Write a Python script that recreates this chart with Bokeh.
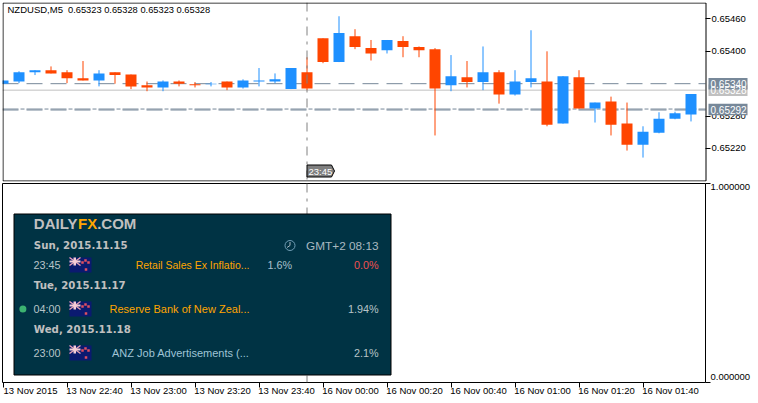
from bokeh.plotting import figure
from bokeh.layouts import column
from bokeh.models import (Span, Label, LinearAxis, FixedTicker, Range1d)
from bokeh.core.properties import value
from bokeh.embed import file_html
from bokeh.resources import INLINE

# ---- data ----
opens  = [0.65340,0.65344,0.65361,0.65365,0.65361,0.65350,0.65346,0.65361,0.65357,0.65337,0.65333,0.65344,0.65339,0.65339,0.65344,0.65333,0.65344,0.65344,0.65330,0.65361,0.65424,0.65380,0.65428,0.65406,0.65402,0.65419,0.65408,0.65404,0.65337,0.65352,0.65343,0.65361,0.65320,0.65343,0.65344,0.65266,0.65352,0.65294,0.65307,0.65266,0.65227,0.65249,0.65275,0.65283]
highs  = [0.65346,0.65363,0.65365,0.65372,0.65365,0.65382,0.65365,0.65361,0.65357,0.65344,0.65346,0.65346,0.65343,0.65343,0.65344,0.65348,0.65369,0.65359,0.65369,0.65389,0.65424,0.65465,0.65441,0.65421,0.65421,0.65428,0.65409,0.65406,0.65393,0.65382,0.65409,0.65365,0.65365,0.65439,0.65400,0.65354,0.65365,0.65305,0.65316,0.65305,0.65261,0.65287,0.65288,0.65288]
lows   = [0.65340,0.65341,0.65356,0.65359,0.65341,0.65346,0.65335,0.65340,0.65330,0.65326,0.65326,0.65335,0.65333,0.65335,0.65328,0.65331,0.65335,0.65341,0.65330,0.65328,0.65378,0.65380,0.65404,0.65383,0.65396,0.65389,0.65389,0.65244,0.65326,0.65333,0.65328,0.65303,0.65318,0.65333,0.65261,0.65266,0.65294,0.65268,0.65244,0.65216,0.65203,0.65248,0.65274,0.65270]
closes = [0.65346,0.65361,0.65365,0.65359,0.65350,0.65346,0.65359,0.65356,0.65335,0.65333,0.65344,0.65340,0.65337,0.65340,0.65333,0.65346,0.65346,0.65348,0.65369,0.65331,0.65380,0.65434,0.65408,0.65396,0.65421,0.65408,0.65402,0.65331,0.65354,0.65343,0.65361,0.65320,0.65344,0.65350,0.65264,0.65354,0.65294,0.65305,0.65264,0.65227,0.65251,0.65275,0.65285,0.65321]
price_ticks = [0.65220,0.65280,0.65400,0.65460]
price_labels = ["0.65220","0.65280","0.65400","0.65460"]
level_ask, level_bid, level_mid = 0.65340, 0.65328, 0.65292
level_values = [level_bid, level_ask, level_mid]
level_texts = ["0.65328","0.65340","0.65292"]
time_ticks = [0,4,8,12,16,20,24,28,32,36,40]
time_labels = ["13 Nov 2015","13 Nov 22:40","13 Nov 23:00","13 Nov 23:20","13 Nov 23:40","16 Nov 00:00",
               "16 Nov 00:20","16 Nov 00:40","16 Nov 01:00","16 Nov 01:20","16 Nov 01:40"]
cross_index = 19
symbol_text = "NZDUSD,M5"
ohlc_text = "0.65323 0.65328 0.65323 0.65328"
cross_label = "23:45"
calendar_days = [("Sun, 2015.11.15",245),("Tue, 2015.11.17",285),("Wed, 2015.11.18",329)]
calendar_rows = [("23:45","Retail Sales Ex Inflatio...","#ffa500","10.5px","1.6%","0.0%",264.5),
                 ("04:00","Reserve Bank of New Zeal...","#ffa500","11px","","1.94%",308.5),
                 ("23:00","ANZ Job Advertisements (...","#9fc4d6","11px","","2.1%",352.5)]

# ---- styles ----
UP, DOWN = "#1e90ff", "#ff4500"
GREY = "#778899"
SILVER = "#c0c0c0"
AX_FONT = "Liberation Sans"
AX_SIZE = "9.5px"
LEFT, RIGHT = 2, 705
PX_PER_BAR = 16
x_of = lambda px: (px-2.5)/PX_PER_BAR

def base(x_end, **k):
    f = figure(output_backend="svg", toolbar_location=None,
               x_range=Range1d(x_of(LEFT), x_of(x_end)), min_border_left=LEFT,
               background_fill_color="white", border_fill_color="white", tools="", **k)
    f.grid.visible = False
    f.xaxis.visible = False
    f.yaxis.visible = False
    return f

# ---- main pane: its frame runs to the page edge so the price tags can overlap the axis ----
y_top, y_bottom = 0.654905, 0.6515865
p = base(758, frame_width=756, frame_height=179, min_border_right=0, y_range=Range1d(y_bottom, y_top),
         min_border_top=2, min_border_bottom=1, outline_line_color=None)
p.extra_x_ranges["px"] = Range1d(LEFT, 758)
p.extra_y_ranges["px"] = Range1d(181, 2)
tk = dict(x_range_name="px", y_range_name="px")

xs = list(range(len(opens)))
cols = [UP if c >= o else DOWN for o, c in zip(opens, closes)]
xa, xb = x_of(LEFT), x_of(RIGHT)
p.segment([xa],[level_bid],[xb],[level_bid], line_color=SILVER, line_width=1)
p.segment([xa],[level_ask],[xb],[level_ask], line_color=GREY, line_width=1, line_dash="16 8")
p.segment([xa],[level_mid-0.000008],[xb],[level_mid-0.000008], line_color=GREY, line_width=1, line_dash="16 8")
p.segment([xa],[level_mid+0.000010],[xb],[level_mid+0.000010], line_color=GREY, line_width=1, line_dash="16 2 4 2")

p.segment(xs, lows, xs, highs, line_color=cols, line_width=1)
p.vbar(xs, 0.6875, [min(a,b) for a,b in zip(opens,closes)], [max(a,b) for a,b in zip(opens,closes)],
       fill_color=cols, line_color=None)
p.segment([cross_index],[y_top],[cross_index],[y_bottom], line_color="#808080", line_width=1, line_dash="9 6 3 6")

ax = LinearAxis(ticker=FixedTicker(ticks=price_ticks), major_label_overrides=dict(zip(price_ticks, price_labels)),
                fixed_location=x_of(RIGHT))
ax.major_tick_out = 5; ax.major_tick_in = 0; ax.minor_tick_out = 0; ax.minor_tick_in = 0
ax.axis_line_color = None; ax.major_tick_line_color = "black"
ax.major_label_standoff = 1
ax.major_label_text_font = AX_FONT; ax.major_label_text_font_size = AX_SIZE; ax.major_label_text_color = "black"
p.add_layout(ax, "right")

# frame border
p.quad(left=[2.5], right=[705.5], top=[2.5], bottom=[180.5], fill_color=None, line_color="black", line_width=1, **tk)

p.add_layout(Label(x=7, y=172, x_units="canvas", y_units="screen", text=symbol_text, text_color="black",
                   text_font=AX_FONT, text_font_size=AX_SIZE, text_baseline="middle"))
p.add_layout(Label(x=67.5, y=172, x_units="canvas", y_units="screen", text=ohlc_text, text_color="black",
                   text_font=AX_FONT, text_font_size="9.3px", text_baseline="middle"))

# crosshair time tag
p.patch([306.5,331,334,331,306.5],[164.5,164.5,170.5,176.5,176.5], fill_color="#808080", line_color="black", line_width=1, **tk)
p.text([308],[171],[cross_label], text_color="white", text_font=value(AX_FONT), text_font_size=AX_SIZE,
       text_baseline="middle", **tk)

# price tags, over the axis labels
p.rect([727.5]*3, level_values, width=39, height=11.5, height_units="screen", x_range_name="px",
       fill_color=[SILVER,GREY,GREY], line_color=None, level="overlay")
p.text([710]*3, level_values, level_texts, x_range_name="px", text_color="white", text_font=value(AX_FONT),
       text_font_size="10px", text_baseline="middle", level="overlay")

# ---- lower pane ----
q = base(RIGHT, width=758, height=221, min_border_right=758-RIGHT, y_range=Range1d(0,1), min_border_top=1,
         min_border_bottom=21, outline_line_color="black", outline_line_width=1)
q.extra_x_ranges["px"] = Range1d(LEFT, RIGHT)
q.extra_y_ranges["px"] = Range1d(382, 183)
q.add_layout(Span(location=cross_index, dimension="height", line_color="#808080", line_width=1, line_dash="9 6 3 6", level="underlay"))

PANEL = "#003344"
q.quad(left=[13.5], right=[390.5], top=[213.5], bottom=[374.5], fill_color=PANEL, line_color="black", line_width=1, **tk)

def txt(x, y, s, color=SILVER, font="Liberation Sans", size="10.8px", style="normal", align="left"):
    q.text([x],[y],[s], text_color=color, text_font=value(font), text_font_size=size, text_font_style=style,
           text_align=align, text_baseline="middle", **tk)

txt(33.3,222.5,"DAILY",size="15px",style="bold")
txt(77.6,222.5,"FX",color="#ffa500",size="15px",style="bold")
txt(96.7,222.5,".COM",size="15px",style="bold")
for s, y in calendar_days:
    txt(33.3,y,s,font="DejaVu Sans",size="10.2px",style="bold")
txt(378,245,"GMT+2 08:13",color="#a9b8c0",size="11.8px",align="right")
q.scatter([289.5],[245],size=10,marker="circle",fill_color=None,line_color="#6f9db5",line_width=1,**tk)
q.segment([289.5,289.5],[245,245],[289.5,286.5],[241.5,247],line_color="#a9b8c0",line_width=1,**tk)

def flag(yc):
    x0, x1, y0, y1 = 69, 91, yc-7.5, yc+7.5
    q.quad(left=[x0],right=[x1],top=[y0],bottom=[y1],fill_color="#0b1a70",line_color=None,**tk)
    q.segment([x0,x0],[y0,y0+8],[x0+11,x0+11],[y0+8,y0],line_color="#e9a3b5",line_width=1.5,**tk)
    q.quad(left=[x0,x0+4],right=[x0+11,x0+6.5],top=[y0+3,y0],bottom=[y0+5,y0+8],fill_color="#f4cdd6",line_color=None,**tk)
    q.scatter([x0+16,x0+19,x0+16.5,x0+13],[y0+3,y0+5,y0+12,y0+5],size=2.5,marker="square",fill_color="#e05060",line_color=None,**tk)

for t, name, col, sz, act, res, y in calendar_rows:
    txt(33,y,t,color="#b8c4c8")
    flag(y)
    txt(249,y,name,color=col,size=sz,align="right")
    if act: txt(291.7,y,act,color="#a9c0cc",align="right")
    txt(378,y,res,color="#f05050" if res=="0.0%" else "#b8c4c8",align="right")
q.scatter([22.4],[308.5],size=7,marker="circle",fill_color="#3cb371",line_color=None,**tk)

# tick marks + labels as two stacked axes
a1 = LinearAxis(ticker=FixedTicker(ticks=time_ticks), major_label_overrides={t:"" for t in time_ticks})
a1.major_label_standoff = 0
a1.major_tick_out = 5; a1.major_tick_in = 0; a1.minor_tick_out = 0; a1.axis_line_color = None; a1.major_tick_line_color="black"
q.add_layout(a1, "below")
shift = 1.72
a2_ticks = [t + shift for t in time_ticks]
a2 = LinearAxis(ticker=FixedTicker(ticks=a2_ticks), major_label_overrides=dict(zip(a2_ticks, time_labels)))
a2.major_tick_out = 0; a2.major_tick_in = 0; a2.minor_tick_out = 0; a2.axis_line_color = None
a2.major_label_standoff = -3; a2.major_label_text_font = AX_FONT; a2.major_label_text_font_size = AX_SIZE; a2.major_label_text_color="black"
q.add_layout(a2, "below")

r1 = LinearAxis(ticker=FixedTicker(ticks=[0,1]), major_label_overrides={0:"",1:""})
r1.major_label_standoff = 0
r1.major_tick_out = 5; r1.major_tick_in = 0; r1.minor_tick_out = 0; r1.axis_line_color = None; r1.major_tick_line_color="black"
q.add_layout(r1, "right")
r2_ticks = [0.03, 0.982]
r2 = LinearAxis(ticker=FixedTicker(ticks=r2_ticks), major_label_overrides=dict(zip(r2_ticks, ["0.000000","1.000000"])))
r2.major_tick_out = 0; r2.major_tick_in = 0; r2.minor_tick_out = 0; r2.axis_line_color = None
r2.major_label_standoff = 0; r2.major_label_text_font = AX_FONT; r2.major_label_text_font_size = AX_SIZE; r2.major_label_text_color="black"
q.add_layout(r2, "right")

page = column(p, q, spacing=0, width=758, height=403, styles={"overflow":"hidden"})
open("out.html", "w").write(file_html(page, INLINE))
